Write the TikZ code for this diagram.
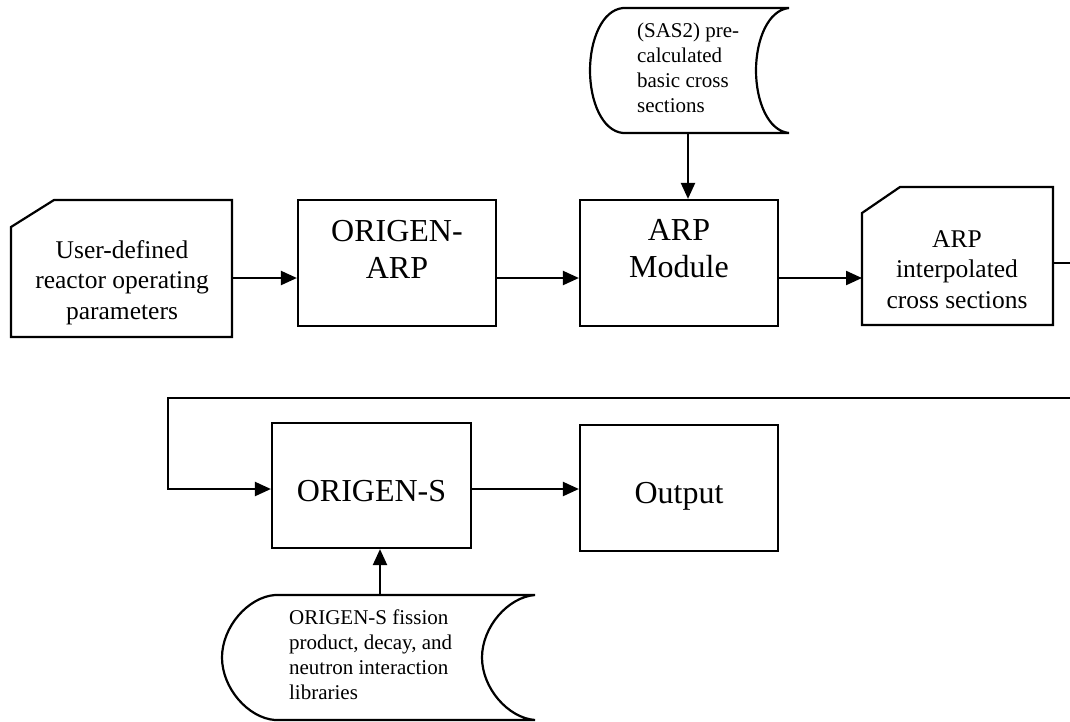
\documentclass[tikz,border=0pt]{standalone}
\usepackage{fontspec}
\setmainfont{Liberation Serif}
\usetikzlibrary{arrows.meta,calc}
\begin{document}
\begin{tikzpicture}[x=1pt,y=-1pt,
  line width=2.2pt,
  arr/.style={-{Triangle[length=16pt,width=14pt]}},
  proc/.style={draw, rectangle, inner sep=0pt},
  holder/.style={rectangle, inner sep=0pt, outer sep=0pt, draw=none},
  bigtxt/.style={font=\fontsize{32}{37}\selectfont, align=center, anchor=base, inner sep=0pt},
  midtxt/.style={font=\fontsize{25.5}{30.2}\selectfont, align=center, anchor=base, inner sep=0pt},
  smtxt/.style={font=\fontsize{21}{24.7}\selectfont, align=left, anchor=base west, inner sep=0pt},
]
\useasboundingbox (0,0) rectangle (1070,721);

% process boxes
\node[proc, minimum width=198pt, minimum height=126pt] (oarp) at (397,263) {};
\node[proc, minimum width=198pt, minimum height=126pt] (arpm) at (679,263) {};
\node[proc, minimum width=199pt, minimum height=125pt] (os) at (371.5,485.5) {};
\node[proc, minimum width=198pt, minimum height=126pt] (out) at (679,488) {};

\node[bigtxt] (oarpt) at (397,278) {ORIGEN-\\ARP};
\node[bigtxt] (arpmt) at (679,277) {ARP\\Module};
\node[bigtxt] (ost) at (371.5,501) {ORIGEN-S};
\node[bigtxt] (outt) at (679,503) {Output};

% cards
\node[holder, minimum width=221pt, minimum height=137pt] (c1) at (121.5,268.5) {};
\draw ([yshift=-27pt]c1.north west) -- ([xshift=43pt]c1.north west) -- (c1.north east) -- (c1.south east) -- (c1.south west) -- cycle;
\node[midtxt] (c1t) at (122,319) {User-defined\\reactor operating\\parameters};

\node[holder, minimum width=191pt, minimum height=138pt] (c3) at (957.5,256) {};
\draw ([yshift=-26pt]c3.north west) -- ([xshift=38pt]c3.north west) -- (c3.north east) -- (c3.south east) -- (c3.south west) -- cycle;
\node[midtxt] (c3t) at (957,308) {ARP\\interpolated\\cross sections};

% stored data shapes
\node[holder, minimum width=199pt, minimum height=125pt] (sas) at (689.5,70.5) {};
\draw (623,8) -- (789,8) .. controls (768,10) and (756,40) .. (756,70.5)
  .. controls (756,101) and (768,131) .. (789,133) -- (623,133)
  .. controls (602,131) and (590,101) .. (590,70.5)
  .. controls (590,40) and (602,10) .. (623,8) -- cycle;
\node[smtxt] (sast) at (636,112) {(SAS2) pre-\\calculated\\basic cross\\sections};

\node[holder, minimum width=313pt, minimum height=125pt] (lib) at (378.5,657.5) {};
\draw (275,595) -- (535,595) .. controls (508,597) and (482,627) .. (482,657.5)
  .. controls (482,688) and (508,718) .. (535,720) -- (275,720)
  .. controls (248,718) and (222,688) .. (222,657.5)
  .. controls (222,627) and (248,597) .. (275,595) -- cycle;
\node[smtxt] (libt) at (288,699) {ORIGEN-S fission\\product, decay, and\\neutron interaction\\libraries};

% helper coordinates
\coordinate (ya) at (0,278);
\coordinate (yb) at (0,263);
\coordinate (yc) at (0,398);
\coordinate (yd) at (0,489);
\coordinate (xa) at (688,0);
\coordinate (xb) at (380,0);
\coordinate (xl) at (168,0);
\coordinate (e1) at (1071,263);
\coordinate (e2) at (1071,398);

% connectors
\draw[arr] (c1.east |- ya) -- (oarp.west |- ya);
\draw[arr] (oarp.east |- ya) -- (arpm.west |- ya);
\draw[arr] (arpm.east |- ya) -- (c3.west |- ya);
\draw (c3.east |- yb) -- (e1);
\draw[arr] (e2) -- (xl |- yc) -- (xl |- yd) -- (os.west |- yd);
\draw[arr] (os.east |- yd) -- (out.west |- yd);
\draw[arr] (sas.south -| xa) -- (arpm.north -| xa);
\draw[arr] (lib.north -| xb) -- (os.south -| xb);
\end{tikzpicture}
\end{document}
